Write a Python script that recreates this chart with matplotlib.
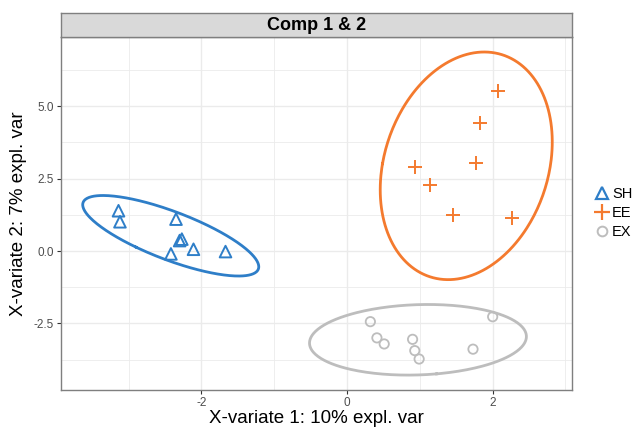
import numpy as np
import matplotlib
matplotlib.use("Agg")
import matplotlib.pyplot as plt
from matplotlib.lines import Line2D

plt.rcParams['font.family'] = ['Liberation Sans', 'DejaVu Sans']

# ---- data ----
groups = ["SH", "EE", "EX"]
sh_x = [-3.14, -3.12, -2.35, -2.27, -2.30, -2.11, -2.42, -1.67]
sh_y = [1.39, 1.01, 1.10, 0.41, 0.36, 0.06, -0.10, -0.02]
ee_x = [2.07, 1.83, 1.77, 0.94, 1.14, 1.45, 2.26]
ee_y = [5.53, 4.43, 3.05, 2.91, 2.28, 1.24, 1.15]
ex_x = [0.32, 0.41, 0.51, 0.90, 0.93, 0.99, 1.73, 2.00]
ex_y = [-2.44, -3.00, -3.21, -3.05, -3.44, -3.73, -3.39, -2.27]
colors = {"SH": "#2E7EC8", "EE": "#F47A2E", "EX": "#BDBDBD"}
xticks = [-2, 0, 2]
yticks = [-2.5, 0.0, 2.5, 5.0]
ytick_labels = ["-2.5", "0.0", "2.5", "5.0"]
xminor = [-3, -1, 1, 3]
yminor = [-3.75, -1.25, 1.25, 3.75, 6.25]
level_t = 2.4477  # sqrt(qchisq(0.95, 2))

data = {"SH": (sh_x, sh_y), "EE": (ee_x, ee_y), "EX": (ex_x, ex_y)}

fig = plt.figure(figsize=(6.35, 4.29), dpi=100)
ax = fig.add_axes([61/635, 1-390/429, (572-61)/635, (390-37)/429])
ax.set_xlim(-3.93, 3.09)
ax.set_ylim(-4.80, 7.39)

ax.set_xticks(xticks)
ax.set_xticklabels([str(t) for t in xticks])
ax.set_yticks(yticks)
ax.set_yticklabels(ytick_labels)
ax.set_xticks(xminor, minor=True)
ax.set_yticks(yminor, minor=True)
ax.grid(True, which='major', color='#EBEBEB', linewidth=1.0, zorder=0)
ax.grid(True, which='minor', color='#EBEBEB', linewidth=0.6, zorder=0)
ax.tick_params(which='minor', length=0)
ax.tick_params(which='major', length=3, color='#333333', width=0.8,
               labelsize=8.5, labelcolor='#4D4D4D', pad=2)
ax.set_axisbelow(True)
for s in ax.spines.values():
    s.set_color('#7F7F7F')
    s.set_linewidth(1.0)

th = np.linspace(0, 2*np.pi, 300)
for g in groups:
    x = np.array(data[g][0]); y = np.array(data[g][1])
    c = colors[g]
    cov = np.cov(np.vstack([x, y]))
    vals, vecs = np.linalg.eigh(cov)
    circ = np.vstack([np.cos(th), np.sin(th)])
    pts = vecs @ (np.sqrt(vals)[:, None] * circ) * level_t
    ax.plot(pts[0] + x.mean(), pts[1] + y.mean(), color=c, lw=2.0, zorder=2)
    if g == "SH":
        ax.scatter(x, y, marker='^', s=70, facecolors='none', edgecolors=c, linewidths=1.4, zorder=3)
    elif g == "EE":
        ax.scatter(x, y, marker='+', s=110, color=c, linewidths=1.4, zorder=3)
    else:
        ax.scatter(x, y, marker='o', s=45, facecolors='none', edgecolors=c, linewidths=1.3, zorder=3)

ax.set_xlabel("X-variate 1: 10% expl. var", fontsize=13.5, color='black', labelpad=1)
ax.set_ylabel("X-variate 2: 7% expl. var", fontsize=13.5, color='black', labelpad=5)

# strip
sax = fig.add_axes([61/635, 1-37/429, (572-61)/635, 24/429])
sax.set_facecolor('#D9D9D9')
sax.set_xticks([]); sax.set_yticks([])
for s in sax.spines.values():
    s.set_color('#7F7F7F'); s.set_linewidth(1.0)
sax.text(0.5, 0.48, "Comp 1 & 2", ha='center', va='center', fontsize=13,
         fontweight='bold', transform=sax.transAxes)

handles = [
    Line2D([], [], ls='none', marker='^', markersize=9, markerfacecolor='none',
           markeredgecolor=colors["SH"], markeredgewidth=1.6),
    Line2D([], [], ls='none', marker='+', markersize=12, color=colors["EE"], markeredgewidth=1.6),
    Line2D([], [], ls='none', marker='o', markersize=7, markerfacecolor='none',
           markeredgecolor=colors["EX"], markeredgewidth=1.4),
]
fig.legend(handles, groups, loc='center left', bbox_to_anchor=(0.925, 0.503),
           frameon=False, fontsize=10.5, handlelength=1.0, handletextpad=0.2,
           labelspacing=0.35, borderpad=0)

fig.savefig("out.png", dpi=100)
